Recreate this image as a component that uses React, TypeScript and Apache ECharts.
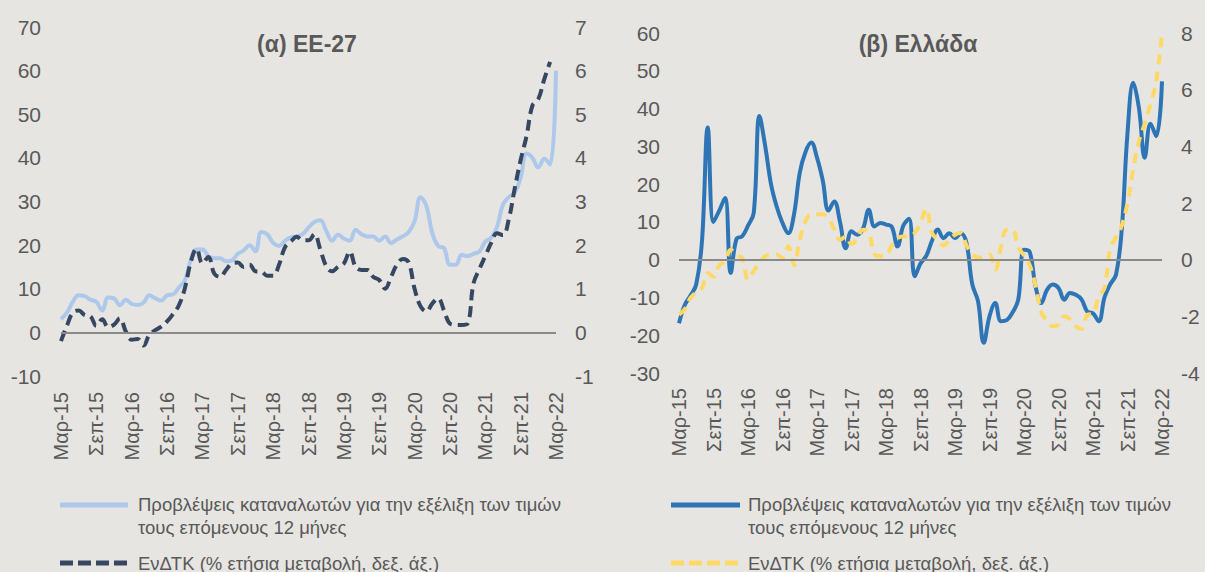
import React, { useEffect, useRef } from "react";
import * as echarts from "echarts";

const MONTHS = ["Ιαν", "Φεβ", "Μαρ", "Απρ", "Μαΐ", "Ιουν", "Ιουλ", "Αυγ", "Σεπ", "Οκτ", "Νοε", "Δεκ"];
const START_YEAR = 15;
const START_MONTH = 2; // March
const N_MONTHS = 85; // Mar-15 .. Mar-22
const categories: string[] = [];
for (let i = 0; i < N_MONTHS; i++) {
  const m = START_MONTH + i;
  categories.push(`${MONTHS[m % 12]}-${START_YEAR + Math.floor(m / 12)}`);
}

// (α) EU-27
const euExpectations = [
  3, 4.5, 7, 8.5, 8.3, 7.5, 7, 5, 8, 7.8,
  6.2, 7.5, 6.5, 6.3, 6.8, 8.5, 7.8, 7.3, 8.5, 8.7,
  10.3, 11.8, 16.5, 19, 19, 17.5, 17, 17, 16.3, 16.5,
  18, 18.8, 20, 18.6, 23, 22.5, 20.5, 19.8, 21, 21.8,
  22, 22.5, 24, 25.3, 25.7, 23.3, 21, 22.4, 21.5, 21,
  23.5, 22.5, 22, 22, 21, 22, 20.5, 21.3, 22, 23,
  25.5, 31, 29, 22.8, 19.8, 19.3, 15.5, 15.5, 17.8, 17.5,
  18, 18.5, 20.8, 21.7, 24.2, 29.3, 31, 32, 35.5, 41,
  40, 37.8, 39.8, 38.5, 60,
];
const euHicp = [
  -0.2, 0.15, 0.45, 0.5, 0.4, 0.37, 0.15, 0.3, 0.12, 0.18,
  0.32, 0.02, -0.17, -0.15, -0.3, -0.05, 0.05, 0.13, 0.25, 0.42,
  0.62, 1.0, 1.6, 1.92, 1.58, 1.73, 1.35, 1.27, 1.43, 1.58,
  1.6, 1.5, 1.55, 1.4, 1.39, 1.3, 1.3, 1.55, 1.95, 2.08,
  2.19, 2.11, 2.11, 2.25, 1.9, 1.52, 1.4, 1.5, 1.58, 1.85,
  1.5, 1.43, 1.43, 1.27, 1.2, 1.0, 1.27, 1.55, 1.68, 1.6,
  1.0, 0.6, 0.48, 0.66, 0.78, 0.5, 0.2, 0.17, 0.17, 0.2,
  1.12, 1.45, 1.75, 2.05, 2.27, 2.23, 2.6, 3.3, 3.95, 4.5,
  5.2, 5.35, 5.8, 6.2, null,
];

// (β) Greece
const grExpectations = [
  -16.8, -12, -9.5, -6.5, 5, 35, 10, 13, 16.3, -3.5,
  5.5, 6.2, 9, 12.4, 38, 30, 20, 14, 9.7, 7,
  12, 23, 28.5, 31, 27, 21, 13, 15.4, 10, 3,
  7.5, 6.6, 8.2, 13.2, 8.8, 9.7, 9.3, 8.7, 3.5, 9,
  10.8, -4.4, -1, 1, 5, 8, 5.7, 7, 5.7, 7,
  4.4, -6.5, -11, -22, -15, -11.5, -16.3, -16, -14, -10.6,
  2.6, 2, -7, -11.5, -8, -6.6, -7.5, -10.6, -8.8, -9.3,
  -10.5, -13.7, -14.2, -16.3, -10, -6.5, -4, 8, 33.5, 46.8,
  40, 27, 36, 32.7, 47.2,
];
const grHicp = [
  -1.94, -1.75, -1.35, -1.15, -1.0, -0.47, -0.6, -0.2, -0.05, 0.35,
  0.15, 0.06, -0.7, -0.4, -0.1, 0.12, 0.18, 0.18, 0.05, 0.47,
  -0.2, 0.7, 1.35, 1.6, 1.6, 1.6, 1.45, 1.06, 0.7, 0.82,
  0.55, 0.76, 1.06, 0.95, 0.2, 0.12, 0.15, 0.5, 0.76, 0.82,
  0.82, 0.94, 1.3, 1.8, 0.94, 0.7, 0.5, 0.7, 0.88, 0.94,
  0.5, 0.2, 0.08, 0.1, 0.18, -0.35, 0.45, 1.06, 1.06, 0.45,
  0.15, -0.2, -0.9, -1.85, -2.15, -2.35, -2.3, -2.0, -2.1, -2.35,
  -2.45, -1.95, -1.9, -1.3, -1.0, 0.4, 0.8, 1.2, 2.0, 3.2,
  4.2, 4.8, 5.5, 6.3, 8.0,
];

// axis ranges [min, max, interval]
const euLeftAxis = [-10, 70, 10];
const euRightAxis = [-1, 7, 1];
const grLeftAxis = [-30, 60, 10];
const grRightAxis = [-4, 8, 2];

const titles = ["(α) ΕΕ-27", "(β) Ελλάδα"];
const legendExpect = "Προβλέψεις καταναλωτών για την εξέλιξη των τιμών\nτους επόμενους 12 μήνες";
const legendHicp = "ΕνΔΤΚ (% ετήσια μεταβολή, δεξ. άξ.)";

const FONT = "'Liberation Sans', Arial, sans-serif";
const TXT = "#595959";
const BG = "#e6e5e1";
const C_LIGHT = "#aec8ec";
const C_DARK = "#364761";
const C_BLUE = "#2e75b6";
const C_YELLOW = "#ffd966";

export default function App() {
  const ref = useRef<HTMLDivElement>(null);
  useEffect(() => {
    if (!ref.current) return;
    const chart = echarts.init(ref.current, null, { renderer: "svg" });
    const axisLabelY = { color: TXT, fontSize: 21, fontFamily: FONT };
    const yAxis = (r: number[], grid: number, pos: string, margin: number) => ({
      type: "value",
      gridIndex: grid,
      position: pos,
      min: r[0],
      max: r[1],
      interval: r[2],
      splitLine: { show: false },
      axisLine: { show: false },
      axisTick: { show: false },
      axisLabel: { ...axisLabelY, margin },
    });
    const xAxis = (grid: number, margin: number) => ({
      type: "category",
      gridIndex: grid,
      data: categories,
      boundaryGap: false,
      axisLine: { show: false },
      axisTick: { show: false },
      axisLabel: {
        color: TXT,
        fontSize: 20,
        fontFamily: FONT,
        rotate: 90,
        interval: 5,
        margin,
      },
    });
    const zeroLine = {
      silent: true,
      symbol: "none",
      label: { show: false },
      lineStyle: { color: "#8a8a8a", width: 2, type: "solid" },
      data: [{ yAxis: 0 }],
    };
    const legendFont = `18.5px ${FONT}`;
    const option: any = {
      animation: false,
      backgroundColor: BG,
      grid: [
        { left: 61, top: 27, width: 495, height: 349 },
        { left: 679, top: 33, width: 483, height: 340 },
      ],
      xAxis: [xAxis(0, 16), xAxis(1, 15)],
      yAxis: [
        yAxis(euLeftAxis, 0, "left", 20),
        yAxis(euRightAxis, 0, "right", 19),
        yAxis(grLeftAxis, 1, "left", 19),
        yAxis(grRightAxis, 1, "right", 19),
      ],
      series: [
        {
          type: "line",
          xAxisIndex: 0,
          yAxisIndex: 0,
          data: euExpectations,
          showSymbol: false,
          smooth: 0.4,
          lineStyle: { color: C_LIGHT, width: 4 },
          markLine: zeroLine,
          z: 2,
        },
        {
          type: "line",
          xAxisIndex: 0,
          yAxisIndex: 1,
          data: euHicp,
          showSymbol: false,
          smooth: 0.4,
          lineStyle: { color: C_DARK, width: 4, type: [11, 6] },
          z: 3,
        },
        {
          type: "line",
          xAxisIndex: 1,
          yAxisIndex: 2,
          data: grExpectations,
          showSymbol: false,
          smooth: 0.4,
          lineStyle: { color: C_BLUE, width: 4 },
          markLine: zeroLine,
          z: 2,
        },
        {
          type: "line",
          xAxisIndex: 1,
          yAxisIndex: 3,
          data: grHicp,
          showSymbol: false,
          smooth: 0.4,
          lineStyle: { color: C_YELLOW, width: 4, type: [10, 7] },
          z: 3,
        },
      ],
      graphic: [
        {
          type: "text",
          x: 307,
          y: 44,
          style: { text: titles[0], fill: TXT, font: `bold 23px ${FONT}`, textAlign: "center", verticalAlign: "middle" },
        },
        {
          type: "text",
          x: 918,
          y: 44,
          style: { text: titles[1], fill: TXT, font: `bold 23px ${FONT}`, textAlign: "center", verticalAlign: "middle" },
        },
        // legend left
        { type: "line", shape: { x1: 60, y1: 505, x2: 128, y2: 505 }, style: { stroke: C_LIGHT, lineWidth: 5 } },
        {
          type: "text",
          x: 138,
          y: 493,
          style: { text: legendExpect, fill: TXT, font: legendFont, lineHeight: 23, verticalAlign: "top" },
        },
        {
          type: "line",
          shape: { x1: 60, y1: 563, x2: 128, y2: 563 },
          style: { stroke: C_DARK, lineWidth: 5, lineDash: [13, 5] },
        },
        {
          type: "text",
          x: 138,
          y: 563,
          style: { text: legendHicp, fill: TXT, font: legendFont, verticalAlign: "middle" },
        },
        // legend right
        { type: "line", shape: { x1: 671, y1: 505, x2: 740, y2: 505 }, style: { stroke: C_BLUE, lineWidth: 5 } },
        {
          type: "text",
          x: 748,
          y: 493,
          style: { text: legendExpect, fill: TXT, font: legendFont, lineHeight: 23, verticalAlign: "top" },
        },
        {
          type: "line",
          shape: { x1: 671, y1: 563, x2: 740, y2: 563 },
          style: { stroke: C_YELLOW, lineWidth: 5, lineDash: [13, 5] },
        },
        {
          type: "text",
          x: 748,
          y: 563,
          style: { text: legendHicp, fill: TXT, font: legendFont, verticalAlign: "middle" },
        },
      ],
    };
    chart.setOption(option);
    return () => chart.dispose();
  }, []);
  return (
    <div
      ref={ref}
      style={{ position: "fixed", left: 0, top: 0, width: 1205, height: 572 }}
    />
  );
}
